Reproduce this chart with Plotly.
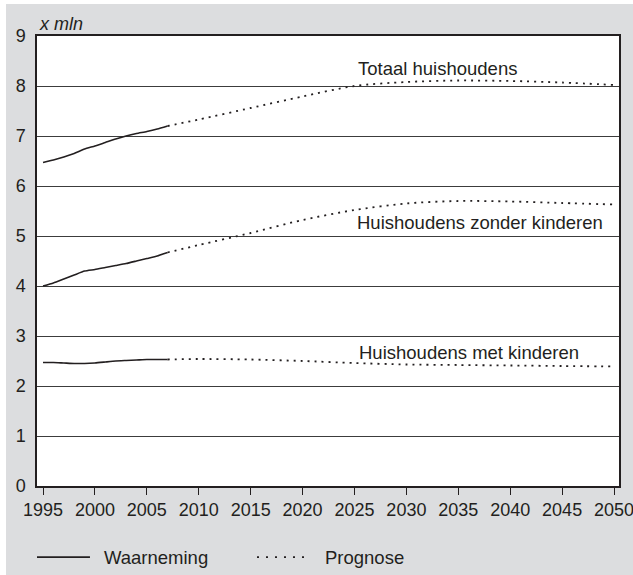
import plotly.graph_objects as go

# Observed years (Waarneming) and forecast years (Prognose)
jaren_obs = list(range(1995, 2008))
jaren_prog = [2007, 2010, 2015, 2020, 2025, 2030, 2035, 2040, 2045, 2050]

totaal_obs = [6.47, 6.52, 6.58, 6.65, 6.74, 6.80, 6.87, 6.94, 7.00, 7.05, 7.09, 7.14, 7.20]
totaal_prog = [7.20, 7.33, 7.56, 7.79, 8.00, 8.08, 8.11, 8.10, 8.07, 8.02]

zonder_obs = [4.00, 4.06, 4.14, 4.22, 4.30, 4.33, 4.37, 4.41, 4.45, 4.50, 4.55, 4.60, 4.67]
zonder_prog = [4.67, 4.82, 5.06, 5.32, 5.52, 5.65, 5.70, 5.69, 5.66, 5.63]

met_obs = [2.47, 2.47, 2.46, 2.45, 2.45, 2.46, 2.48, 2.50, 2.51, 2.52, 2.53, 2.53, 2.53]
met_prog = [2.53, 2.54, 2.53, 2.50, 2.46, 2.43, 2.42, 2.41, 2.40, 2.39]

reeks_namen = ["Totaal huishoudens", "Huishoudens zonder kinderen", "Huishoudens met kinderen"]
# label positions (year, value) for each series name
label_x = [2033.0, 2037.1, 2036.0]
label_y = [8.36, 5.28, 2.68]

x_ticks = list(range(1995, 2051, 5))

FONT = "Liberation Sans, Arial, Helvetica, sans-serif"
INK = "#231f20"
GRIJS = "#dcdddf"
DOT = "2px,5px"

fig = go.Figure()

for obs, prog in [(totaal_obs, totaal_prog), (zonder_obs, zonder_prog), (met_obs, met_prog)]:
    fig.add_trace(go.Scatter(x=jaren_obs, y=obs, mode="lines",
                             line=dict(color=INK, width=1.6, shape="spline", smoothing=0.5),
                             showlegend=False, hoverinfo="x+y"))
    fig.add_trace(go.Scatter(x=jaren_prog, y=prog, mode="lines",
                             line=dict(color=INK, width=1.8, dash=DOT, shape="spline", smoothing=0.8),
                             showlegend=False, hoverinfo="x+y"))

# series labels
for naam, lx, ly in zip(reeks_namen, label_x, label_y):
    fig.add_annotation(x=lx, y=ly, text=naam, showarrow=False,
                       font=dict(family=FONT, size=18.5, color=INK),
                       xanchor="center", yanchor="middle")

# unit label
fig.add_annotation(xref="paper", yref="paper", x=0.0, y=1.027, text="<i>x mln</i>",
                   showarrow=False, xanchor="left", yanchor="middle",
                   font=dict(family=FONT, size=18, color=INK))

# legend drawn by hand (line sample is longer than plotly's own)
leg_y = -0.158
fig.add_shape(type="line", xref="paper", yref="paper", x0=0.0, x1=0.091, y0=leg_y, y1=leg_y,
              line=dict(color=INK, width=1.6))
fig.add_shape(type="line", xref="paper", yref="paper", x0=0.378, x1=0.46, y0=leg_y, y1=leg_y,
              line=dict(color=INK, width=1.8, dash="2px,7px"))
fig.add_annotation(xref="paper", yref="paper", x=0.111, y=leg_y, text="Waarneming",
                   showarrow=False, xanchor="left", yanchor="middle",
                   font=dict(family=FONT, size=18.5, color=INK))
fig.add_annotation(xref="paper", yref="paper", x=0.491, y=leg_y, text="Prognose",
                   showarrow=False, xanchor="left", yanchor="middle",
                   font=dict(family=FONT, size=18.5, color=INK))

# thin white border strips at the left and top of the grey panel
fig.add_shape(type="rect", xref="paper", yref="paper", x0=-0.07, x1=-0.0533, y0=-0.21, y1=1.09,
              line=dict(width=0), fillcolor="white")
fig.add_shape(type="rect", xref="paper", yref="paper", x0=-0.07, x1=1.03, y0=1.0711, y1=1.09,
              line=dict(width=0), fillcolor="white")

fig.update_layout(
    width=633, height=575,
    margin=dict(l=37, r=14, t=36, b=89),
    paper_bgcolor=GRIJS, plot_bgcolor="white",
    font=dict(family=FONT, size=18, color=INK),
    showlegend=False,
)

fig.update_xaxes(range=[1994.42, 2050.48], tickvals=x_ticks, ticks="outside", ticklen=7,
                 tickcolor=INK, tickwidth=1.2, showline=True, linecolor=INK, linewidth=1.5,
                 mirror=True, showgrid=False, zeroline=False, automargin=False,
                 ticklabeloverflow="allow",
                 tickfont=dict(family=FONT, size=18, color=INK))
fig.update_yaxes(range=[0, 9], dtick=1, showgrid=True, gridcolor="#3c3c3c", gridwidth=1,
                 showline=True, linecolor=INK, linewidth=1.5, mirror=True, zeroline=False,
                 ticks="", ticklabelstandoff=6, automargin=False,
                 tickfont=dict(family=FONT, size=18, color=INK))

# page body has a default 8px margin; remove it so the figure sits at the window corner
fig.write_html("out.html", config={"displayModeBar": False},
               post_script="document.body.style.margin='0';")
